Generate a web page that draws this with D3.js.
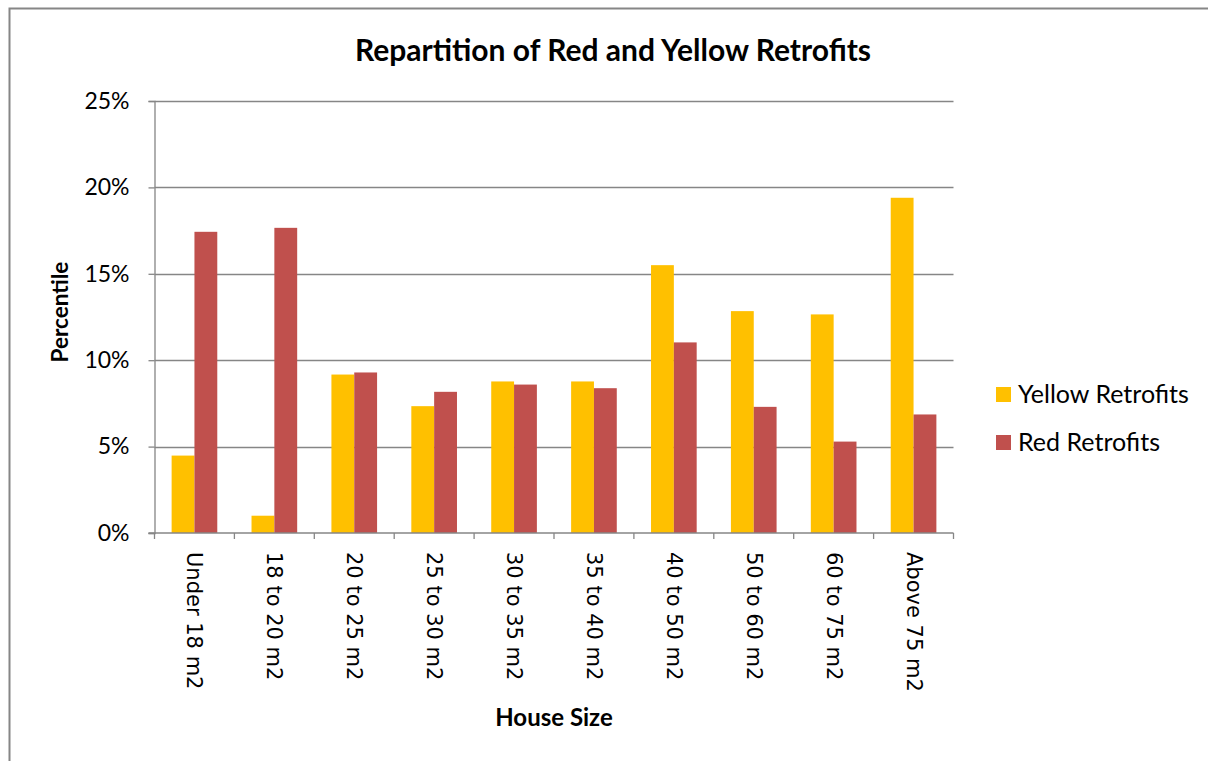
<!DOCTYPE html>
<html>
<head>
<meta charset="utf-8">
<script src="https://cdn.jsdelivr.net/npm/d3@7"></script>
<style>
  html, body { margin: 0; padding: 0; background: #fff; }
  svg { display: block; }
</style>
</head>
<body>
<svg id="chart" width="1208" height="761"></svg>
<script>
const categories = ["Under 18 m2", "18 to 20 m2", "20 to 25 m2", "25 to 30 m2", "30 to 35 m2",
                    "35 to 40 m2", "40 to 50 m2", "50 to 60 m2", "60 to 75 m2", "Above 75 m2"];
const yellowRetrofits = [4.48, 1.0, 9.17, 7.34, 8.77, 8.77, 15.5, 12.84, 12.65, 19.4];
const redRetrofits = [17.43, 17.66, 9.29, 8.17, 8.59, 8.38, 11.03, 7.30, 5.29, 6.86];
const seriesNames = ["Yellow Retrofits", "Red Retrofits"];
const seriesColors = ["#FFC000", "#C0504D"];
const yTicks = [0, 5, 10, 15, 20, 25];

(function () {
const svg = d3.select("#chart");
const pLeft = 154.5, pRight = 953.5, pTop = 101, pBottom = 533;
const gridColor = "#868686";
const calibriLike = "Lato, 'Liberation Sans', sans-serif";

// chart border
svg.append("path")
  .attr("d", "M9.5,761 L9.5,8.5 L1208,8.5")
  .attr("fill", "none").attr("stroke", gridColor).attr("stroke-width", 2);

const x0 = d3.scaleBand().domain(categories).range([pLeft, pRight]).padding(0);
const x1 = d3.scaleBand().domain(seriesNames).range([0, x0.bandwidth()]).paddingInner(0).paddingOuter(0.75);
const y = d3.scaleLinear().domain([0, 25]).range([pBottom, pTop]);

// gridlines
svg.append("g").selectAll("line").data(yTicks.filter(d => d > 0)).join("line")
  .attr("x1", pLeft).attr("x2", pRight)
  .attr("y1", d => Math.round(y(d)) + 0.5).attr("y2", d => Math.round(y(d)) + 0.5)
  .attr("stroke", gridColor).attr("stroke-width", 1.3);

// bars
const data = categories.map((c, i) => ({ c, vals: [yellowRetrofits[i], redRetrofits[i]] }));
const groups = svg.append("g").selectAll("g").data(data).join("g")
  .attr("transform", d => `translate(${x0(d.c)},0)`);
groups.selectAll("rect").data(d => d.vals.map((v, j) => ({ v, s: seriesNames[j], color: seriesColors[j] })))
  .join("rect")
  .attr("x", d => x1(d.s))
  .attr("width", x1.bandwidth())
  .attr("y", d => y(d.v))
  .attr("height", d => y(0) - y(d.v))
  .attr("fill", d => d.color);

// y axis
const yAxis = d3.axisLeft(y).tickValues(yTicks).tickSize(6).tickPadding(19)
  .tickFormat(d => d + "%");
const gy = svg.append("g").attr("transform", `translate(${pLeft},0)`).call(yAxis);
gy.select(".domain").attr("stroke", gridColor).attr("stroke-width", 1.3);
gy.selectAll(".tick line").attr("stroke", gridColor).attr("stroke-width", 1.3);
gy.selectAll(".tick text").attr("font-family", calibriLike).attr("font-size", 23).attr("fill", "#000");

// x axis
const xTickScale = d3.scaleLinear().domain([0, categories.length]).range([pLeft, pRight]);
const gx = svg.append("g").attr("transform", `translate(0,${pBottom})`);
gx.append("line").attr("x1", pLeft - 6).attr("x2", pRight).attr("stroke", gridColor).attr("stroke-width", 1.3);
gx.selectAll("line.tk").data(d3.range(categories.length + 1)).join("line").attr("class", "tk")
  .attr("x1", d => xTickScale(d)).attr("x2", d => xTickScale(d))
  .attr("y1", 0).attr("y2", 6).attr("stroke", gridColor).attr("stroke-width", 1.3);
gx.selectAll("text").data(categories).join("text")
  .attr("transform", d => `translate(${x0(d) + x0.bandwidth() / 2},19) rotate(90)`)
  .attr("text-anchor", "start").attr("dominant-baseline", "central")
  .attr("font-family", "'DejaVu Sans', sans-serif").attr("font-size", 21).attr("fill", "#000")
  .text(d => d);

// title
svg.append("text").attr("x", 613).attr("y", 61).attr("text-anchor", "middle")
  .attr("font-family", calibriLike).attr("font-weight", "bold").attr("font-size", 30)
  .text("Repartition of Red and Yellow Retrofits");

// axis titles
svg.append("text").attr("x", (pLeft + pRight) / 2).attr("y", 726).attr("text-anchor", "middle")
  .attr("font-family", calibriLike).attr("font-weight", "bold").attr("font-size", 24)
  .text("House Size");
svg.append("text").attr("transform", `translate(68,${(pTop + pBottom) / 2 - 5}) rotate(-90)`)
  .attr("text-anchor", "middle")
  .attr("font-family", calibriLike).attr("font-weight", "bold").attr("font-size", 22.5)
  .text("Percentile");

// legend
const legend = svg.append("g").selectAll("g").data(seriesNames).join("g")
  .attr("transform", (d, i) => `translate(996,${387 + i * 48})`);
legend.append("rect").attr("width", 15).attr("height", 15).attr("fill", (d, i) => seriesColors[i]);
legend.append("text").attr("x", 22).attr("y", 16)
  .attr("font-family", calibriLike).attr("font-size", 25).attr("fill", "#000")
  .text(d => d);
})();
</script>
</body>
</html>
